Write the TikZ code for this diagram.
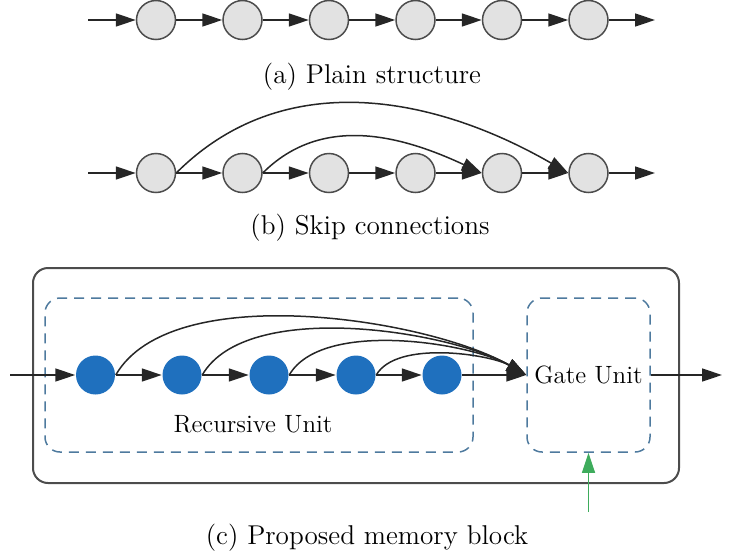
\documentclass[tikz,border=0pt]{standalone}
\usetikzlibrary{arrows.meta}

\definecolor{nodegray}{HTML}{E2E2E2}
\definecolor{nodeblue}{RGB}{31,112,190}
\definecolor{dashblue}{RGB}{78,122,158}
\definecolor{gatein}{RGB}{62,172,92}

\tikzset{
  arrowhead/.style={-{Triangle[length=10pt,width=6.5pt]}},
  caption/.style={anchor=base,inner sep=0pt,font=\fontsize{13.6}{16}\selectfont},
  unitbox/.style={draw=dashblue,dash pattern=on 5pt off 3.5pt,rounded corners=7.5pt,
    minimum height=77pt,inner sep=0pt,font=\fontsize{12.5}{15}\selectfont},
}

\begin{document}
\begin{tikzpicture}[x=0.5pt,y=-0.5pt,line width=0.75pt]

      \useasboundingbox (0,0) rectangle (734,552);

      % (a) plain structure
      \begin{scope}[every node/.style={circle,draw=black!70,fill=nodegray,minimum size=19.5pt,inner sep=0pt}]
        \node (a1) at (156,20)   {};
        \node (a2) at (242.5,20) {};
        \node (a3) at (329,20)   {};
        \node (a4) at (415.5,20) {};
        \node (a5) at (502,20)   {};
        \node (a6) at (588.5,20) {};
      \end{scope}
      \coordinate (ain)  at (88,20);
      \coordinate (aout) at (655,20);

      % (b) skip connections
      \begin{scope}[every node/.style={circle,draw=black!70,fill=nodegray,minimum size=19.5pt,inner sep=0pt}]
        \node (b1) at (156,173)   {};
        \node (b2) at (242.5,173) {};
        \node (b3) at (329,173)   {};
        \node (b4) at (415.5,173) {};
        \node (b5) at (502,173)   {};
        \node (b6) at (588.5,173) {};
      \end{scope}
      \coordinate (bin)  at (88,173);
      \coordinate (bout) at (655,173);

      % (c) memory block
      \node[draw=black!70,line width=1pt,rounded corners=7.5pt,minimum width=323pt,minimum height=107.5pt] (block) at (356,375.5) {};
      \node[unitbox,minimum width=214pt] (rec) at (259,375) {};
      \node[unitbox,minimum width=61.5pt] (gate) at (588.5,375) {Gate Unit};
      \node[anchor=base,inner sep=0pt,font=\fontsize{12.5}{15}\selectfont] (reclabel) at (253,432) {Recursive Unit};

      \begin{scope}[every node/.style={circle,fill=nodeblue,minimum size=19.5pt,inner sep=0pt}]
        \node (c1) at (95.5,375) {};
        \node (c2) at (182,375)  {};
        \node (c3) at (269,375)  {};
        \node (c4) at (356,375)  {};
        \node (c5) at (442,375)  {};
      \end{scope}
      \coordinate (cin)   at (10,375);
      \coordinate (cout)  at (722,375);
      \coordinate (gctrl) at (588.5,512);

      \begin{scope}[every edge/.style={draw=black!85,arrowhead}]
        \path (ain) edge (a1);
        \path (a1)  edge (a2);
        \path (a2)  edge (a3);
        \path (a3)  edge (a4);
        \path (a4)  edge (a5);
        \path (a5)  edge (a6);
        \path (a6)  edge (aout);

        \path (bin) edge (b1);
        \path (b1)  edge (b2);
        \path (b2)  edge (b3);
        \path (b3)  edge (b4);
        \path (b4)  edge (b5);
        \path (b5)  edge (b6);
        \path (b6)  edge (bout);
        \path (b1.east) edge[out=45,in=150] (b6.west);
        \path (b2.east) edge[out=45,in=155] (b5.west);

        \path (cin) edge (c1);
        \path (c1)  edge (c2);
        \path (c2)  edge (c3);
        \path (c3)  edge (c4);
        \path (c4)  edge (c5);
        \path (c5)  edge (gate);
        \path (c1.east) edge[out=60,in=150,looseness=0.7] (gate.west);
        \path (c2.east) edge[out=60,in=150,looseness=0.7] (gate.west);
        \path (c3.east) edge[out=60,in=150,looseness=0.7] (gate.west);
        \path (c4.east) edge[out=60,in=150,looseness=0.7] (gate.west);
        \path (gate) edge (cout);
        \path (gctrl) edge[draw=gatein,line width=0.6pt] (gate);
      \end{scope}

      \node[caption] (capa) at (372,83)  {(a) Plain structure};
      \node[caption] (capb) at (370,234) {(b) Skip connections};
      \node[caption] (capc) at (367,544) {(c) Proposed memory block};

    \end{tikzpicture}
\end{document}
